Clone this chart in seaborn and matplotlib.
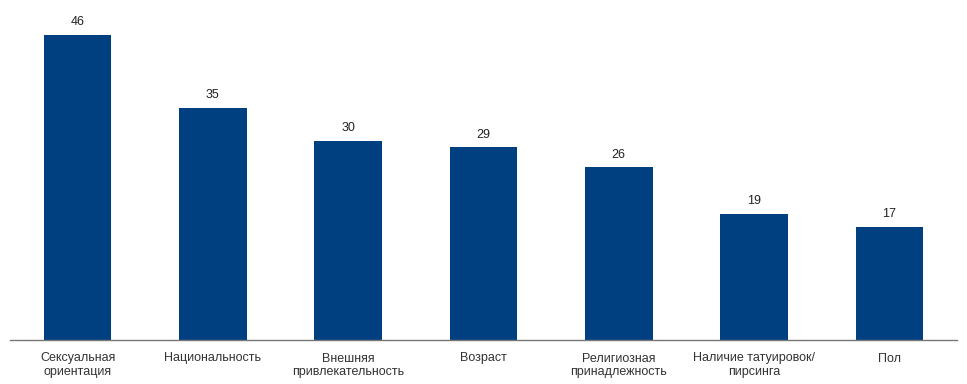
import matplotlib
matplotlib.use('Agg')
import matplotlib.pyplot as plt
import seaborn as sns
import pandas as pd

# Data
categories = ['Сексуальная\nориентация', 'Национальность', 'Внешняя\nпривлекательность',
              'Возраст', 'Религиозная\nпринадлежность', 'Наличие татуировок/\nпирсинга', 'Пол']
values = [46, 35, 30, 29, 26, 19, 17]

df = pd.DataFrame({'Category': categories, 'Value': values})

sns.set_style('white')
plt.rcParams['font.family'] = ['Liberation Sans', 'DejaVu Sans']

fig = plt.figure(figsize=(9.67, 3.84), dpi=100)
ax = fig.add_axes([10 / 967, 44 / 384, 947 / 967, 340 / 384])

sns.barplot(data=df, x='Category', y='Value', color='#004081', saturation=1,
            width=0.5, linewidth=0, ax=ax)

for i, v in enumerate(values):
    ax.text(i, v + 1.0, str(v), ha='center', va='bottom', fontsize=9, color='#222222')

ax.set_xlim(-0.5, len(categories) - 0.5)
ax.set_ylim(0, 51.2)
ax.set_yticks([])
ax.set_xlabel('')
ax.set_ylabel('')
ax.tick_params(axis='x', length=0, pad=9, labelsize=9, labelcolor='#333333')
for s in ['top', 'right', 'left']:
    ax.spines[s].set_visible(False)
ax.spines['bottom'].set_color('#777777')
ax.spines['bottom'].set_linewidth(1)

fig.savefig('out.png', dpi=100)
